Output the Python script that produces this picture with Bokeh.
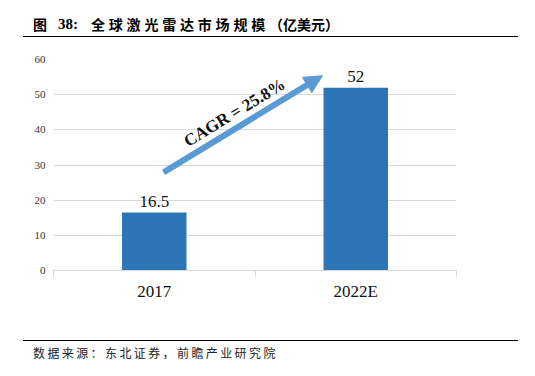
from bokeh.plotting import figure
from bokeh.models import Range1d, FixedTicker, Label, Arrow, NormalHead, ColumnDataSource, Div
from bokeh.layouts import column
from bokeh.embed import file_html
from bokeh.resources import INLINE
from bokeh.core.properties import value
import math

categories = ["2017", "2022E"]
market_size = [16.5, 52]
bar_labels = ["16.5", "52"]
y_ticks = [0, 10, 20, 30, 40, 50, 60]
cagr_text = "CAGR = 25.8%"
title_fig = "图"
title_num = "38:"
title_main = "全球激光雷达市场规模"
title_unit = "（亿美元）"
source_text = "数据来源：东北证券，前瞻产业研究院"

SERIF = "Liberation Serif"
CJK = "Noto Sans CJK SC"

xpos = [i + 0.5 for i in range(len(categories))]
src = ColumnDataSource(dict(x=xpos, top=market_size, label=bar_labels))

p = figure(width=535, height=296, output_backend="svg", toolbar_location=None,
           x_range=Range1d(0, len(categories)), y_range=Range1d(0, 60),
           min_border_left=53, min_border_right=79, min_border_top=19, min_border_bottom=66,
           margin=0)
p.outline_line_color = None
p.background_fill_color = "white"
p.border_fill_color = "white"

p.vbar(x="x", top="top", width=0.32, bottom=0, source=src, fill_color="#2E75B6", line_color=None)

p.text(x="x", y="top", text="label", source=src, text_align="center", text_baseline="alphabetic",
       y_offset=-11, text_font=value(SERIF), text_font_size="17px", text_color="#111111")

# axes
p.xgrid.grid_line_color = None
p.ygrid.grid_line_color = "#d9d9d9"
p.ygrid.grid_line_width = 1
p.yaxis.ticker = FixedTicker(ticks=y_ticks)
p.yaxis.axis_line_color = None
p.yaxis.major_tick_line_color = None
p.yaxis.major_tick_out = 0
p.yaxis.major_tick_in = 0
p.yaxis.minor_tick_line_color = None
p.yaxis.major_label_text_font = SERIF
p.yaxis.major_label_text_font_size = "11px"
p.yaxis.major_label_text_color = "#333333"
p.yaxis.major_label_standoff = 8

p.xaxis.ticker = FixedTicker(ticks=xpos, minor_ticks=list(range(len(categories) + 1)))
p.xaxis.major_label_overrides = {xv: c for xv, c in zip(xpos, categories)}
p.xaxis.axis_line_color = "#d9d9d9"
p.xaxis.major_tick_line_color = None
p.xaxis.major_tick_out = 0
p.xaxis.major_tick_in = 0
p.xaxis.minor_tick_line_color = "#d9d9d9"
p.xaxis.minor_tick_out = 6
p.xaxis.minor_tick_in = 0
p.xaxis.major_label_text_font = SERIF
p.xaxis.major_label_text_font_size = "17px"
p.xaxis.major_label_text_color = "#111111"
p.xaxis.major_label_standoff = 5

# CAGR arrow
x0, y0 = 0.546, market_size[0] + 11.4
x1, y1 = 1.335, market_size[1] + 3.4
p.add_layout(Arrow(x_start=x0, y_start=y0, x_end=x1, y_end=y1, line_color="#5B9BD5", line_width=6,
                   end=NormalHead(size=18, fill_color="#5B9BD5", line_color="#5B9BD5")))
ang = math.atan2(97, 159)
p.add_layout(Label(x=0.898, y=44.9, text=cagr_text, angle=ang, text_align="center", text_baseline="middle",
                   text_font=SERIF, text_font_style="bold", text_font_size="17px", text_color="#111111"))

title_html = (
    '<div style="position:relative;width:535px;height:40px;margin:0;padding:0;overflow:hidden;">'
    f'<span style="position:absolute;left:33px;top:16px;font-family:\'{CJK}\';font-weight:bold;'
    f'font-size:14px;line-height:16px;color:#000;">{title_fig}</span>'
    f'<span style="position:absolute;left:58px;top:16px;font-family:\'{SERIF}\';font-weight:bold;'
    f'font-size:15px;line-height:16px;color:#000;">{title_num}</span>'
    f'<span style="position:absolute;left:91px;top:16px;font-family:\'{CJK}\';font-weight:bold;'
    f'font-size:14px;line-height:16px;color:#000;white-space:nowrap;">'
    f'<span style="letter-spacing:3.8px;">{title_main}</span>{title_unit}</span>'
    '<div style="position:absolute;left:23px;top:36px;width:495px;height:0;border-top:1.5px solid #000;"></div>'
    '</div>'
)
footer_html = (
    '<div style="position:relative;width:535px;height:40px;margin:0;padding:0;overflow:hidden;">'
    '<div style="position:absolute;left:23px;top:4px;width:495px;height:0;border-top:1.5px solid #000;"></div>'
    f'<span style="position:absolute;left:33px;top:10px;font-family:\'{CJK}\';font-size:12px;'
    f'line-height:14px;letter-spacing:2.4px;color:#222;white-space:nowrap;">{source_text}</span>'
    '</div>'
)
title_div = Div(text=title_html, width=535, height=40, margin=0)
footer_div = Div(text=footer_html, width=535, height=40, margin=0)

layout = column(title_div, p, footer_div, spacing=0, margin=0)

open("out.html", "w").write(file_html(layout, INLINE))
